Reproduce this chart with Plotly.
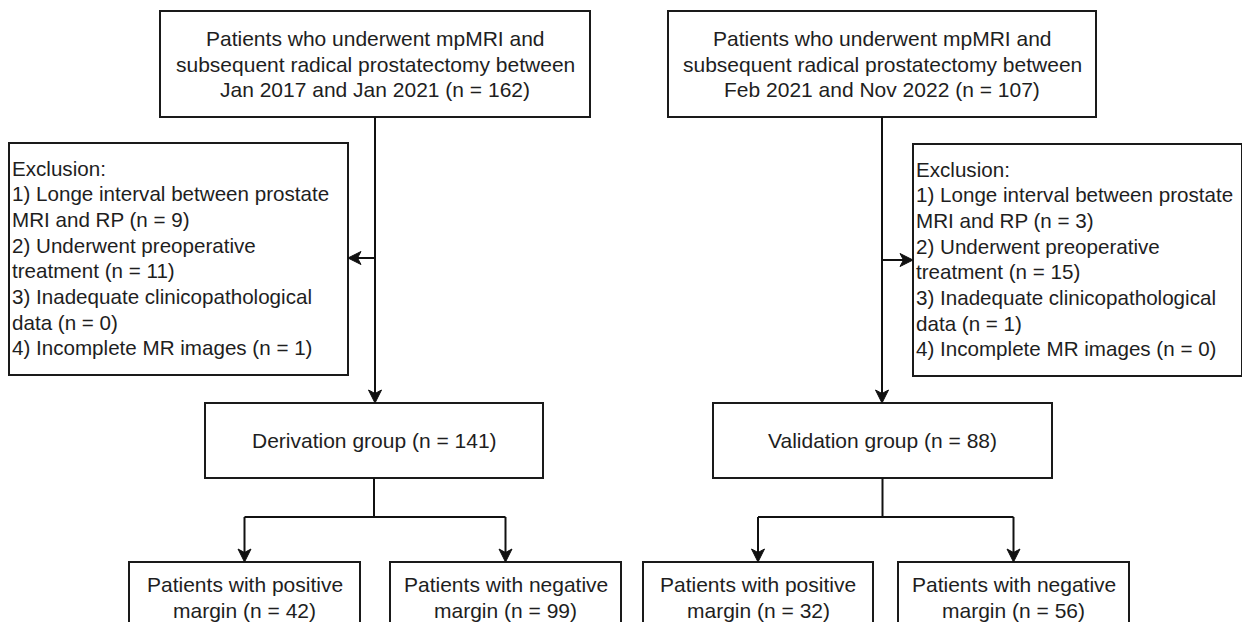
import plotly.graph_objects as go

# ---------------- content ----------------
top_left_lines = ["Patients who underwent mpMRI and",
                  "subsequent radical prostatectomy between",
                  "Jan 2017 and Jan 2021 (n = 162)"]
top_right_lines = ["Patients who underwent mpMRI and",
                   "subsequent radical prostatectomy between",
                   "Feb 2021 and Nov 2022 (n = 107)"]
excl_left_lines = ["Exclusion:",
                   "1) Longe interval between prostate",
                   "MRI and RP (n = 9)",
                   "2) Underwent preoperative",
                   "treatment (n = 11)",
                   "3) Inadequate clinicopathological",
                   "data (n = 0)",
                   "4) Incomplete MR images (n = 1)"]
excl_right_lines = ["Exclusion:",
                    "1) Longe interval between prostate",
                    "MRI and RP (n = 3)",
                    "2) Underwent preoperative",
                    "treatment (n = 15)",
                    "3) Inadequate clinicopathological",
                    "data (n = 1)",
                    "4) Incomplete MR images (n = 0)"]
group_labels = ["Derivation group (n = 141)", "Validation group (n = 88)"]
bottom_labels = [["Patients with positive", "margin (n = 42)"],
                 ["Patients with negative", "margin (n = 99)"],
                 ["Patients with positive", "margin (n = 32)"],
                 ["Patients with negative", "margin (n = 56)"]]

# ---------------- layout geometry (pixels) ----------------
top_boxes = [(160, 590, 11, 117), (668, 1096, 11, 117)]
excl_boxes = [(9, 348, 143, 375), (913, 1242, 144, 376)]
group_boxes = [(205, 543, 403, 478), (713, 1052, 403, 478)]
bottom_boxes = [(129, 360, 562, 645), (390, 621, 562, 645),
                (643, 873, 562, 645), (898, 1129, 562, 645)]
spine_x = [375, 882]
excl_arrow_y = [258, 260]
split_y = 517

# the page places the figure 8 px from the top-left corner; compensate
OFF = 8

FONT = dict(family="Liberation Sans, Arial, Helvetica, sans-serif", size=21, color="#1e1e1e")
EXCL_FONT = dict(family="Liberation Sans, Arial, Helvetica, sans-serif", size=20.6, color="#1e1e1e")
LINE = dict(color="#111111", width=2)

fig = go.Figure()
shapes = []
annotations = []


def rect(b):
    x0, x1, y0, y1 = b
    shapes.append(dict(type="rect", xref="x", yref="y", x0=x0, x1=x1, y0=y0, y1=y1,
                       line=dict(color="#1a1a1a", width=2), fillcolor="rgba(0,0,0,0)",
                       layer="above"))


def seg(x0, y0, x1, y1):
    shapes.append(dict(type="line", xref="x", yref="y", x0=x0, y0=y0, x1=x1, y1=y1,
                       line=LINE, layer="above"))


def head(x, y, direction):
    L, W, N = 13, 6.5, 3.5
    if direction == "down":
        p = f"M {x},{y} L {x-W},{y-L} L {x},{y-L+N} L {x+W},{y-L} Z"
    elif direction == "left":
        p = f"M {x},{y} L {x+L},{y-W} L {x+L-N},{y} L {x+L},{y+W} Z"
    else:
        p = f"M {x},{y} L {x-L},{y-W} L {x-L+N},{y} L {x-L},{y+W} Z"
    shapes.append(dict(type="path", xref="x", yref="y", path=p,
                       fillcolor="#111111", line=dict(color="#111111", width=1),
                       layer="above"))


def text(x, y, s, anchor="center", font=FONT):
    annotations.append(dict(x=x, y=y, xref="x", yref="y", text=s, showarrow=False,
                            xanchor=anchor, yanchor="middle", font=font, align=anchor))


def lines_centered(cx, cy, lines, spacing):
    n = len(lines)
    for i, s in enumerate(lines):
        text(cx, cy + (i - (n - 1) / 2) * spacing, s)


# top boxes
for b, lines in zip(top_boxes, [top_left_lines, top_right_lines]):
    rect(b)
    lines_centered((b[0] + b[1]) / 2, (b[2] + b[3]) / 2, lines, 25.5)

# exclusion boxes
for b, lines in zip(excl_boxes, [excl_left_lines, excl_right_lines]):
    rect(b)
    cy = (b[2] + b[3]) / 2 - 1
    n = len(lines)
    for i, s in enumerate(lines):
        text(b[0] + 1, cy + (i - (n - 1) / 2) * 25.7, s, anchor="left", font=EXCL_FONT)

# group boxes
for b, lab in zip(group_boxes, group_labels):
    rect(b)
    text((b[0] + b[1]) / 2, (b[2] + b[3]) / 2, lab)

# bottom boxes
for b, lines in zip(bottom_boxes, bottom_labels):
    rect(b)
    cx = (b[0] + b[1]) / 2
    text(cx, 584, lines[0])
    text(cx, 610, lines[1])

# connectors
for k in range(2):
    sx = spine_x[k]
    tb = top_boxes[k]
    gb = group_boxes[k]
    eb = excl_boxes[k]
    seg(sx, tb[3], sx, gb[2] - 8)
    head(sx, gb[2], "down")
    if k == 0:
        seg(sx, excl_arrow_y[k], eb[1] + 8, excl_arrow_y[k])
        head(eb[1], excl_arrow_y[k], "left")
    else:
        seg(sx, excl_arrow_y[k], eb[0] - 8, excl_arrow_y[k])
        head(eb[0], excl_arrow_y[k], "right")
    gx = (gb[0] + gb[1]) / 2
    seg(gx, gb[3], gx, split_y)
    lb = bottom_boxes[2 * k]
    rb = bottom_boxes[2 * k + 1]
    lx = (lb[0] + lb[1]) / 2
    rx = (rb[0] + rb[1]) / 2
    seg(lx, split_y, rx, split_y)
    for bx, bb in [(lx, lb), (rx, rb)]:
        seg(bx, split_y, bx, bb[2] - 8)
        head(bx, bb[2], "down")

# figure sized so the page never scrolls (body margin is 8 px on every side)
W_FIG = 1250 - OFF
H_FIG = 630 - 2 * OFF

fig.update_layout(
    width=W_FIG, height=H_FIG,
    margin=dict(l=0, r=0, t=0, b=0),
    paper_bgcolor="white", plot_bgcolor="white",
    xaxis=dict(range=[OFF, OFF + W_FIG], visible=False, fixedrange=True),
    yaxis=dict(range=[OFF + H_FIG, OFF], visible=False, fixedrange=True),
    shapes=shapes, annotations=annotations, showlegend=False,
)

fig.write_html("out.html")
